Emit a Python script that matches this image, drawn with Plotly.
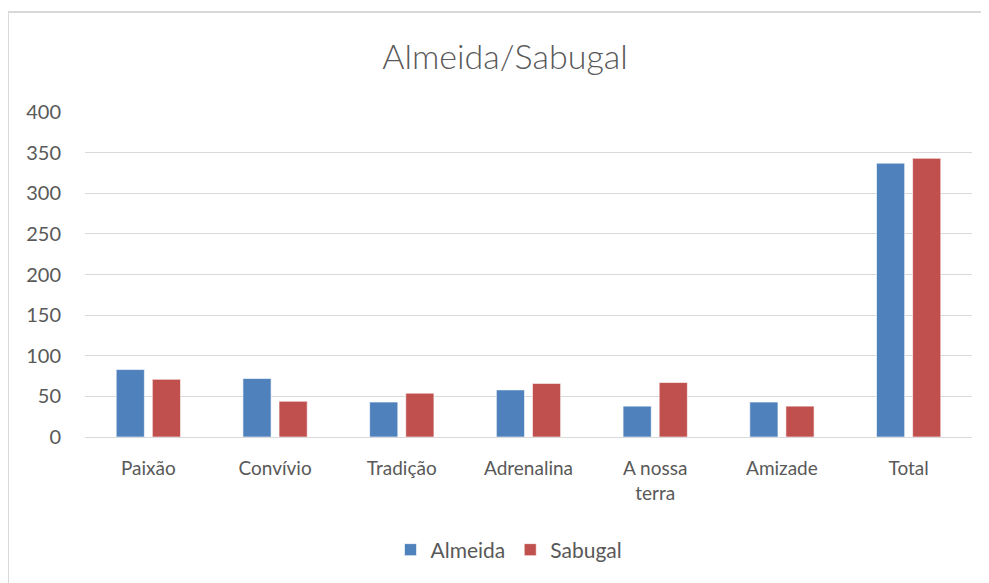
import plotly.graph_objects as go

categories = ["Paixão", "Convívio", "Tradição", "Adrenalina", "A nossa<br>terra", "Amizade", "Total"]
almeida = [83, 72, 43, 58, 38, 43, 337]
sabugal = [71, 44, 54, 66, 67, 38, 343]
y_ticks = [0, 50, 100, 150, 200, 250, 300, 350, 400]

FONT = "Lato"
GREY = "#595959"

fig = go.Figure()
fig.add_trace(go.Bar(name="Almeida", x=categories, y=almeida,
                     marker=dict(color="#4F81BD", line=dict(color="rgba(255,255,255,0.6)", width=1))))
fig.add_trace(go.Bar(name="Sabugal", x=categories, y=sabugal,
                     marker=dict(color="#C0504D", line=dict(color="rgba(255,255,255,0.6)", width=1))))

# page has an 8px body margin; compensate so the chart lands on screen like the reference
OFF = 8
W, H = 989 - OFF, 583 - OFF
L, R, T, B = 85 - OFF, 17, 112 - OFF, 146
pw = W - L - R
ph = H - T - B

def px(x):  # screen x -> paper
    return (x - OFF - L) / pw

def py(y):  # screen y -> paper
    return (H - B - (y - OFF)) / ph

fig.update_layout(
    width=W, height=H,
    margin=dict(l=L, r=R, t=T, b=B),
    paper_bgcolor="white", plot_bgcolor="white",
    barmode="group", bargap=0.43, bargroupgap=0.22,
    title=dict(text="Almeida/Sabugal", xref="container", x=(505 - OFF) / W, xanchor="center",
               y=1 - (57 - OFF) / H, yanchor="middle",
               font=dict(family=FONT, size=34, color=GREY, weight=300)),
    font=dict(family=FONT, size=18, color=GREY),
    legend=dict(orientation="h", x=px(509), xanchor="center", y=py(550), yanchor="middle",
                font=dict(family=FONT, size=21, color=GREY), itemwidth=30, traceorder="normal"),
    xaxis=dict(showgrid=False, showline=False, ticks="", ticklabelstandoff=18,
               tickfont=dict(family=FONT, size=19, color=GREY)),
    yaxis=dict(range=[0, 400], tickvals=y_ticks, showgrid=True, gridcolor="#D9D9D9", gridwidth=1,
               zeroline=True, zerolinecolor="#D9D9D9", zerolinewidth=1, showline=False, ticks="",
               ticklabelstandoff=23, tickfont=dict(family=FONT, size=20, color=GREY)),
    shapes=[
        dict(type="line", xref="paper", yref="paper", x0=px(8), x1=px(989 + 5), y0=py(12), y1=py(12),
             line=dict(color="#D9D9D9", width=2)),
        dict(type="line", xref="paper", yref="paper", x0=px(8), x1=px(8), y0=py(12), y1=py(583 + 5),
             line=dict(color="#D9D9D9", width=2)),
    ],
)

fig.write_html("out.html")
